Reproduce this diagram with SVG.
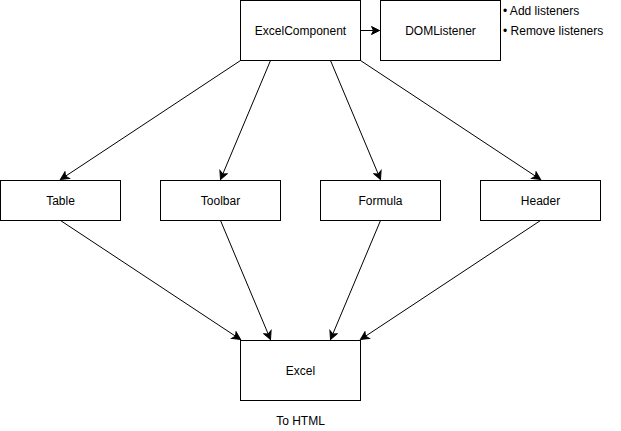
<svg xmlns="http://www.w3.org/2000/svg" width="621" height="431" viewBox="0 0 621 431">
<style>
.n rect{fill:#fff;stroke:#000;stroke-width:1}
text{font-family:"Liberation Sans",Arial,sans-serif;font-size:12px;fill:#000}
.n text{text-anchor:middle;dominant-baseline:central}
.c path{fill:none;stroke:#000;stroke-width:1;marker-end:url(#a)}
</style>
<defs>
<marker id="a" viewBox="0 0 10 10" refX="9" refY="5" markerWidth="10" markerHeight="10" markerUnits="userSpaceOnUse" orient="auto">
<path d="M1,1 L9,5 L1,9 L3,5 Z" fill="#000" stroke="#000" stroke-width="1"/>
</marker>
</defs>
<rect width="621" height="431" fill="#fff"/>
<g class="c">
<path d="M360.5,30.5 L379.5,30.5"/>
<path d="M240.5,60.5 L60.5,179.5"/>
<path d="M270.5,60.5 L220.5,179.5"/>
<path d="M330.5,60.5 L380.5,179.5"/>
<path d="M360.5,60.5 L540.5,179.5"/>
<path d="M60.5,220.5 L240.5,339.5"/>
<path d="M220.5,220.5 L270.5,339.5"/>
<path d="M380.5,220.5 L330.5,339.5"/>
<path d="M540.5,220.5 L360.5,339.5"/>
</g>
<g id="excelcomponent" class="n"><rect x="240.5" y="0.5" width="120" height="60"/><text x="300.5" y="30.5">ExcelComponent</text></g>
<g id="domlistener" class="n"><rect x="380.5" y="0.5" width="120" height="60"/><text x="440.5" y="30.5">DOMListener</text></g>
<g id="notes"><text x="503" y="15">• Add listeners</text><text x="503" y="35">• Remove listeners</text></g>
<g id="table" class="n"><rect x="0.5" y="180.5" width="120" height="40"/><text x="60.5" y="200.5">Table</text></g>
<g id="toolbar" class="n"><rect x="160.5" y="180.5" width="120" height="40"/><text x="220.5" y="200.5">Toolbar</text></g>
<g id="formula" class="n"><rect x="320.5" y="180.5" width="120" height="40"/><text x="380.5" y="200.5">Formula</text></g>
<g id="header" class="n"><rect x="480.5" y="180.5" width="120" height="40"/><text x="540.5" y="200.5">Header</text></g>
<g id="excel" class="n"><rect x="240.5" y="340.5" width="120" height="60"/><text x="300.5" y="370.5">Excel</text></g>
<g id="tohtml"><text x="300.5" y="424.5" text-anchor="middle">To HTML</text></g>
</svg>
